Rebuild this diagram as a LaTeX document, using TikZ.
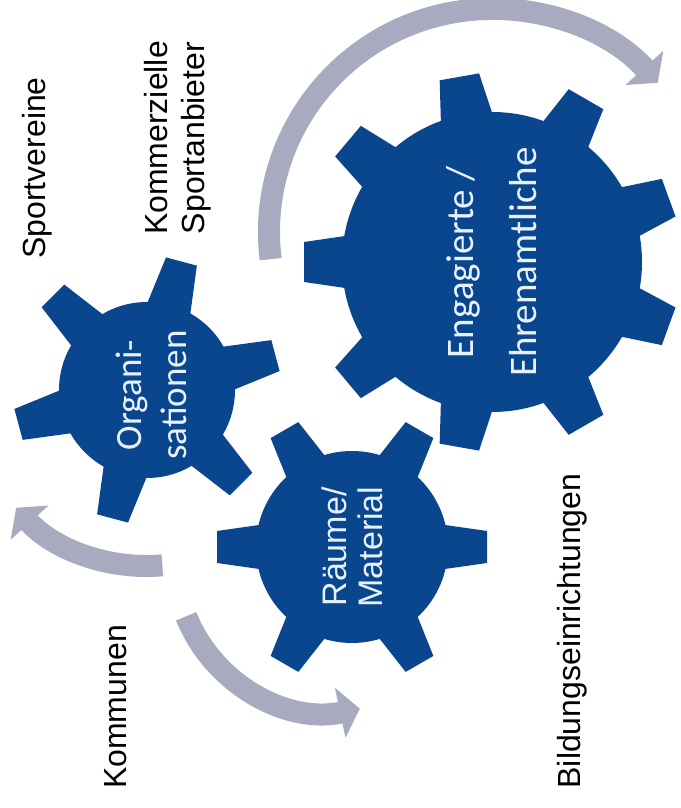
\documentclass[tikz,border=0pt]{standalone}
\usepackage{fontspec}
\setmainfont{Liberation Sans}
\newfontfamily\cogfont{Carlito}
\usetikzlibrary{arrows.meta}
\definecolor{gearblue}{RGB}{10,70,142}
\definecolor{arcgray}{RGB}{168,171,191}
\definecolor{gearfont}{RGB}{232,242,255}
\tikzset{
  >={Triangle[length=20pt,width=50pt]},
  cog/.style    ={fill=gearblue},
  cogtext/.style={rotate=90, align=center, inner sep=0pt, text=gearfont, font=\cogfont\fontsize{39}{63}\selectfont},
  outer/.style  ={rotate=90, align=center, inner sep=0pt, font=\fontsize{32}{37}\selectfont},
  turn/.style   ={->, draw=arcgray, line width=22pt}
}
% center, body radius, tip radius, teeth, start angle, half width
\newcommand{\gearshape}[6]{%
  \fill[cog] (#1) circle[radius=#2];
  \pgfmathsetmacro\gstep{360/#4}
  \foreach \k in {1,...,#4}
    \fill[cog, shift={(#1)}, rotate={#5+\k*\gstep}]
      (#2-10,-#6) -- (#3,-#6+7) -- (#3,#6-7) -- (#2-10,#6) -- cycle;
}

\begin{document}
\begin{tikzpicture}[x=1pt, y=1pt]
\fill[white] (0,0) rectangle (680,808);
\useasboundingbox (0,0) rectangle (680,808);

\coordinate (big)   at (492,546);
\coordinate (mid)   at (352,261);
\coordinate (small) at (147,418);
\coordinate (bigarc) at (492,576);
\coordinate (midarc) at (328,249);

\gearshape{big}{150}{188}{9}{-20}{27}
\gearshape{mid}{96}{135}{6}{-60}{23}
\gearshape{small}{88}{133}{6}{-45}{23}

\node[cogtext] (ehrenamt) at (big) {Engagierte /\\Ehrenamtliche};
\node[cogtext, font=\fontsize{34}{36}\selectfont] (raum) at (mid) {Räume/\\Material};
\node[cogtext, font=\cogfont\fontsize{37}{45}\selectfont] (orga) at (151,413) {Organi-\\sationen};

\node[outer] (vereine)  at (37,640)  {Sportvereine};
\node[outer] (anbieter) at (178,670) {Kommerzielle\\Sportanbieter};
\node[outer] (kommunen) at (116,101) {Kommunen};
\node[outer] (bildung)  at (572,177) {Bildungseinrichtungen};

\draw[turn] ([shift={(187:223)}]bigarc) arc[start angle=187, end angle=42, radius=223];
\draw[turn] ([shift={(275:176)}]small) arc[start angle=275, end angle=222, radius=176];
\draw[turn] ([shift={(202:153)}]midarc) arc[start angle=202, end angle=282, radius=153];
\end{tikzpicture}
\end{document}
